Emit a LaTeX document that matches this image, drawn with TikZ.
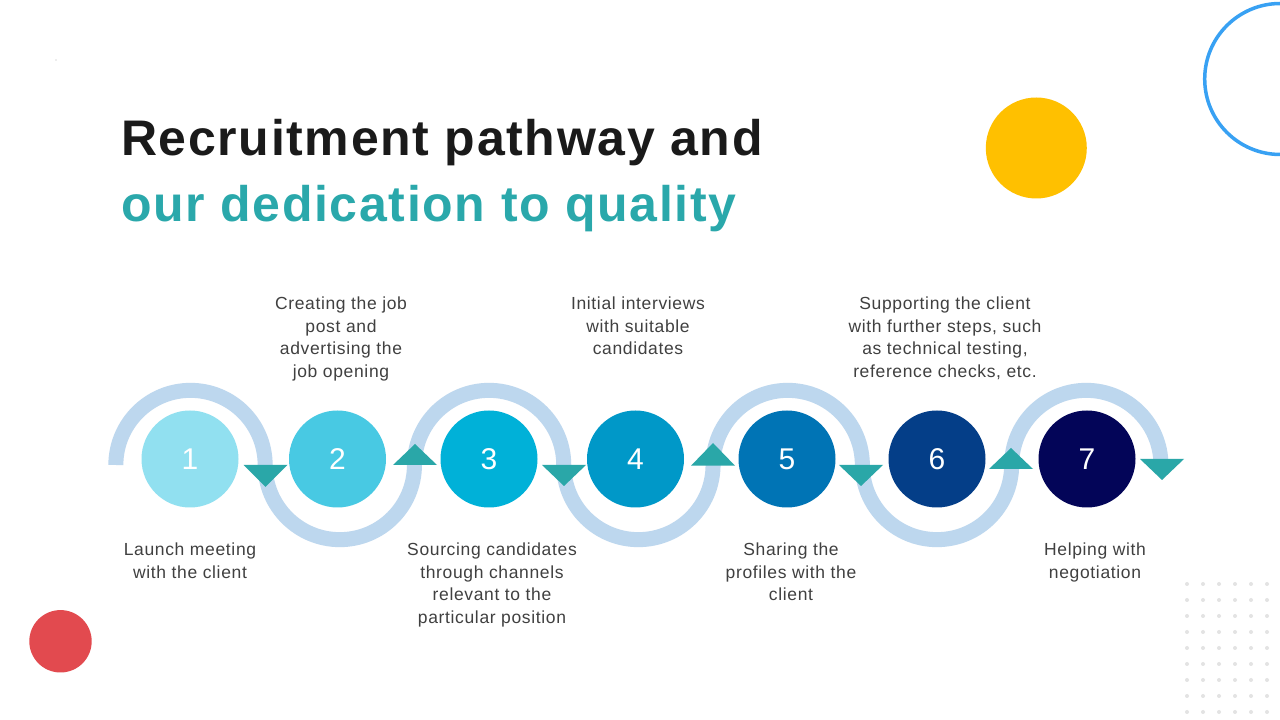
\documentclass[tikz,border=0pt]{standalone}
\usepackage{fontspec}
\setmainfont{Liberation Sans}
\newfontfamily\titlefont[LetterSpace=3.3]{Liberation Sans}
\newfontfamily\labelfont[LetterSpace=3.7]{Liberation Sans}
\begin{document}
\begin{tikzpicture}[x=1pt,y=1pt,
  ring/.style={draw=ringblue,line width=15pt},
  tri/.style={fill=triteal},
  stepcirc/.style={circle,minimum size=97pt,inner sep=0pt,text=white,font=\fontsize{30}{36}\selectfont},
  lbl/.style={align=center,inner sep=0pt,anchor=north,text=labelgray,font=\labelfont\fontsize{17.5}{22.5}\selectfont},
  ttl/.style={anchor=base west,inner sep=0pt,font=\titlefont\fontsize{50}{60}\selectfont\bfseries}]
\definecolor{ringblue}{HTML}{BDD7EE}
\definecolor{triteal}{HTML}{2AA7A8}
\definecolor{labelgray}{HTML}{404040}
\definecolor{dotgray}{HTML}{E3E3E3}
\definecolor{titleblack}{HTML}{1A1A1A}
\definecolor{titleteal}{HTML}{2AA8AB}
\definecolor{cA}{HTML}{91E0F0}
\definecolor{cB}{HTML}{48C9E3}
\definecolor{cC}{HTML}{00B1D8}
\definecolor{cD}{HTML}{0098C8}
\definecolor{cE}{HTML}{0074B5}
\definecolor{cF}{HTML}{043E88}
\definecolor{cG}{HTML}{030558}
\definecolor{sunyellow}{HTML}{FFC000}
\definecolor{skyring}{HTML}{38A1F3}
\definecolor{redball}{HTML}{E24A4F}
\useasboundingbox (0,0) rectangle (1280,720);
\clip (0,0) rectangle (1280,720);
\fill[white] (0,0) rectangle (1280,720);

% decorations
\fill[gray!60] (56,660) circle (0.6);
\fill[sunyellow] (1036.3,572) circle (50.5);
\draw[skyring,line width=3.5pt] (1280.2,641) circle (75.5);
\fill[redball] (60.5,78.7) circle (31.2);
\foreach \i in {0,...,5}{
  \foreach \j in {0,...,8}{
    \fill[dotgray] ({1187+16*\i},{136-16*\j}) circle (2);
  }
}

% title
\node[ttl,text=titleblack] (t1) at (121,564) {Recruitment pathway and};
\node[ttl,text=titleteal] (t2) at (121,498) {our dedication to quality};

% rings
\draw[ring] (115.85,255) arc (180:0:74.65);
\draw[ring] (265.15,255) arc (180:360:74.65);
\draw[ring] (414.45,255) arc (180:0:74.65);
\draw[ring] (563.75,255) arc (180:360:74.65);
\draw[ring] (713.05,255) arc (180:0:74.65);
\draw[ring] (862.35,255) arc (180:360:74.65);
\draw[ring] (1011.65,255) arc (180:0:74.65);

% triangles
\fill[tri] (243.5,255) -- (287.5,255) -- (265.5,233) -- cycle;
\fill[tri] (393,255) -- (437,255) -- (415,276) -- cycle;
\fill[tri] (542,255) -- (586,255) -- (564,234) -- cycle;
\fill[tri] (691,254.3) -- (735,254.3) -- (713,277) -- cycle;
\fill[tri] (839,255) -- (883,255) -- (861,234) -- cycle;
\fill[tri] (989,251) -- (1033,251) -- (1011,272) -- cycle;
\fill[tri] (1140,261) -- (1184,261) -- (1162,240) -- cycle;

% step circles
\node[stepcirc,fill=cA] (s1) at (190,261) {1};
\node[stepcirc,fill=cB] (s2) at (337.5,261) {2};
\node[stepcirc,fill=cC] (s3) at (489,261) {3};
\node[stepcirc,fill=cD] (s4) at (635.5,261) {4};
\node[stepcirc,fill=cE] (s5) at (787,261) {5};
\node[stepcirc,fill=cF] (s6) at (937,261) {6};
\node[stepcirc,fill=cG] (s7) at (1087,261) {7};

% labels
\node[lbl] (l1) at (190,177) {Launch meeting\\with the client};
\node[lbl] (l2) at (341,423) {Creating the job\\post and\\advertising the\\job opening};
\node[lbl] (l3) at (492,177) {Sourcing candidates\\through channels\\relevant to the\\particular position};
\node[lbl] (l4) at (638,423) {Initial interviews\\with suitable\\candidates};
\node[lbl] (l5) at (791,177) {Sharing the\\profiles with the\\client};
\node[lbl] (l6) at (945,423) {Supporting the client\\with further steps, such\\as technical testing,\\reference checks, etc.};
\node[lbl] (l7) at (1095,177) {Helping with\\negotiation};
\end{tikzpicture}
\end{document}
